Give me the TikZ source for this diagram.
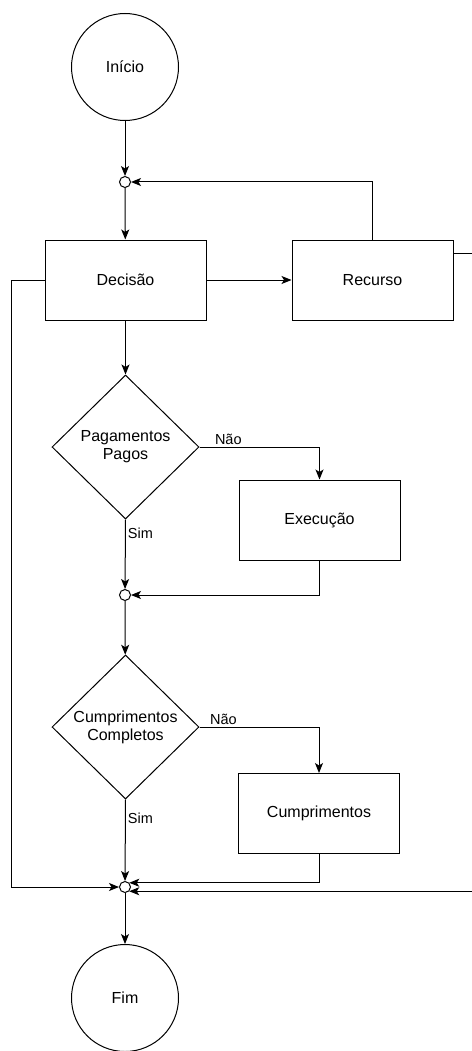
\documentclass[tikz,border=0pt]{standalone}
\usepackage{fontspec}
\setmainfont{Liberation Sans}
\usetikzlibrary{shapes.geometric,arrows.meta}

\begin{document}
\begin{tikzpicture}[x=1pt,y=-1pt]%
  \tikzstyle{every node}=[font=\fontsize{16}{18}\selectfont]
  \tikzstyle{terminal}=[circle,draw,line width=1pt,minimum size=107]
  \tikzstyle{junction}=[circle,draw,line width=1pt,minimum size=11,inner sep=0]
  \tikzstyle{proc}=[rectangle,draw,line width=1pt,minimum width=161,minimum height=80]
  \tikzstyle{test}=[diamond,draw,line width=1pt,minimum width=147,minimum height=144,inner sep=0,align=center]
  \tikzstyle{flow}=[line width=1pt,-{Stealth[length=10pt,width=8pt,inset=2.5pt]}]
  \tikzstyle{lbl}=[font=\fontsize{14.5}{16}\selectfont,inner sep=2pt]
  \useasboundingbox (0,0) rectangle (471,1051);
  % nodes
  \node(inicio)[terminal] at (125,67) {Início};
  \node(j1)[junction] at (125,182) {};
  \node(decisao)[proc] at (125.5,280) {Decisão};
  \node(recurso)[proc] at (372.5,280) {Recurso};
  \node(pag)[test] at (125.5,447) {Pagamentos\\Pagos};
  \node(exec)[proc] at (319.5,520) {Execução};
  \node(j2)[junction] at (125,595) {};
  \node(cump)[test] at (125.5,727) {Cumprimentos\\Completos};
  \node(cumpbox)[proc] at (319,813.5) {Cumprimentos};
  \node(j3)[junction] at (125,887) {};
  \node(fim)[terminal] at (125,998) {Fim};
  % connectors
  \draw[flow] (inicio) -- (j1);
  \draw[flow] (j1) -- (decisao);
  \draw[flow] (recurso.north) |- (j1);
  \draw[flow] (decisao) -- (recurso);
  \draw[flow] (decisao) -- (pag);
  \draw[flow] (pag.east) -| node[lbl,pos=0.12,above]{Não} (exec.north);
  \draw[flow] (pag.south) -- node[lbl,pos=0.2,right]{Sim} (j2);
  \draw[flow] (exec.south) |- (j2);
  \draw[flow] (j2) -- (cump);
  \draw[flow] (cump.east) -| node[lbl,pos=0.1,above]{Não} (cumpbox.north);
  \draw[flow] (cump.south) -- node[lbl,pos=0.23,right]{Sim} (j3);
  \draw[flow] (decisao.west) -- ++(-33,0) |- (j3);
  \draw[flow] (cumpbox.south) |- (j3.north east);
  \draw[flow] ([yshift=27pt]recurso.east) -- ++(30,0) |- (j3.south east);
  \draw[flow] (j3) -- (fim);
\end{tikzpicture}
\end{document}
